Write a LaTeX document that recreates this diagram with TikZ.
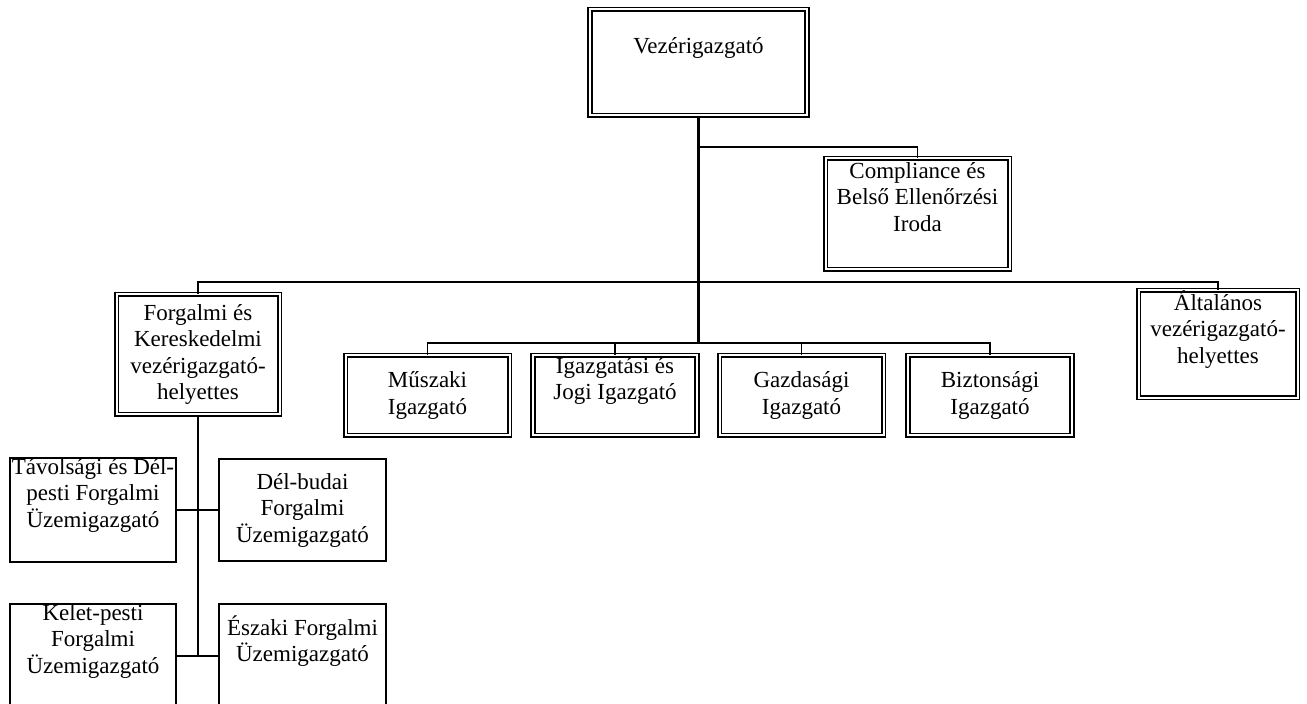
\documentclass[tikz,border=0pt]{standalone}
\usepackage{fontspec}
\setmainfont{Liberation Serif}
\usepackage{tikz}

\newcommand{\gapline}{\\\strut}

\begin{document}
\begin{tikzpicture}[x=0.5pt,y=-0.5pt,
    every node/.style={font=\fontsize{11.5}{13.25}\selectfont, align=center, inner sep=0pt},
    dbox/.style={draw, double, line width=0.85pt, double distance=1pt, rectangle},
    sbox/.style={draw, line width=0.9pt, rectangle},
    link/.style={line width=0.9pt},
    trunk/.style={line width=1.4pt}]
    \useasboundingbox (0,0) rectangle (1307,704);
    \clip (0,0) rectangle (1307,704);
    % top level
    \node[dbox, minimum width=108.5pt, minimum height=53pt] (ceo) at (698.5,62.5) {Vezérigazgató\gapline};
    \node[dbox, minimum width=92pt, minimum height=55.5pt] (cbo) at (917.5,214) {Compliance és\\Belső Ellenőrzési\\Iroda\gapline};
    % deputies
    \node[dbox, minimum width=81.5pt, minimum height=60pt] (fkv) at (198,354.5) {Forgalmi és\\Kereskedelmi\\vezérigazgató-\\helyettes};
    \node[dbox, minimum width=79.5pt, minimum height=49.5pt] (avh) at (1218,344) {Általános\\vezérigazgató-\\helyettes\gapline};
    % directors
    \node[dbox, minimum width=82pt, minimum height=40pt] (msz) at (427.5,395.5) {Műszaki\\Igazgató};
    \node[dbox, minimum width=82pt, minimum height=40pt] (igj) at (615,395.5) {Igazgatási és\\Jogi Igazgató\gapline};
    \node[dbox, minimum width=82pt, minimum height=40pt] (gzd) at (801.5,395.5) {Gazdasági\\Igazgató};
    \node[dbox, minimum width=82pt, minimum height=40pt] (bzt) at (990,395.5) {Biztonsági\\Igazgató};
    % operating directors
    \node[sbox, minimum width=83pt, minimum height=51pt] (tav) at (93,510) {Távolsági és Dél-\\pesti Forgalmi\\Üzemigazgató\gapline};
    \node[sbox, minimum width=83.5pt, minimum height=51pt] (dbu) at (302.5,510) {Dél-budai\\Forgalmi\\Üzemigazgató};
    \node[sbox, minimum width=83pt, minimum height=52pt] (kpe) at (93,656) {Kelet-pesti\\Forgalmi\\Üzemigazgató\gapline};
    \node[sbox, minimum width=83.5pt, minimum height=52pt] (esz) at (302.5,656) {Északi Forgalmi\\Üzemigazgató\gapline};
    % lines
    \coordinate (j1) at (698.5,147);
    \coordinate (j2) at (698.5,282);
    \coordinate (j3) at (698.5,343);
    \draw[trunk] (ceo.south) -- (j3);
    \draw[link] (j1) -| (cbo.north);
    \draw[link] (fkv.north) |- (j2) -| (avh.north);
    \draw[link] (msz.north) |- (j3) -| (bzt.north);
    \draw[link] (igj.north) -- (igj.north |- j3);
    \draw[link] (gzd.north) -- (gzd.north |- j3);
    \draw[trunk] (fkv.south) -- (fkv.south |- esz.west);
    \draw[link] (tav.east) -- (dbu.west);
    \draw[link] (kpe.east) -- (esz.west);
\end{tikzpicture}
\end{document}
